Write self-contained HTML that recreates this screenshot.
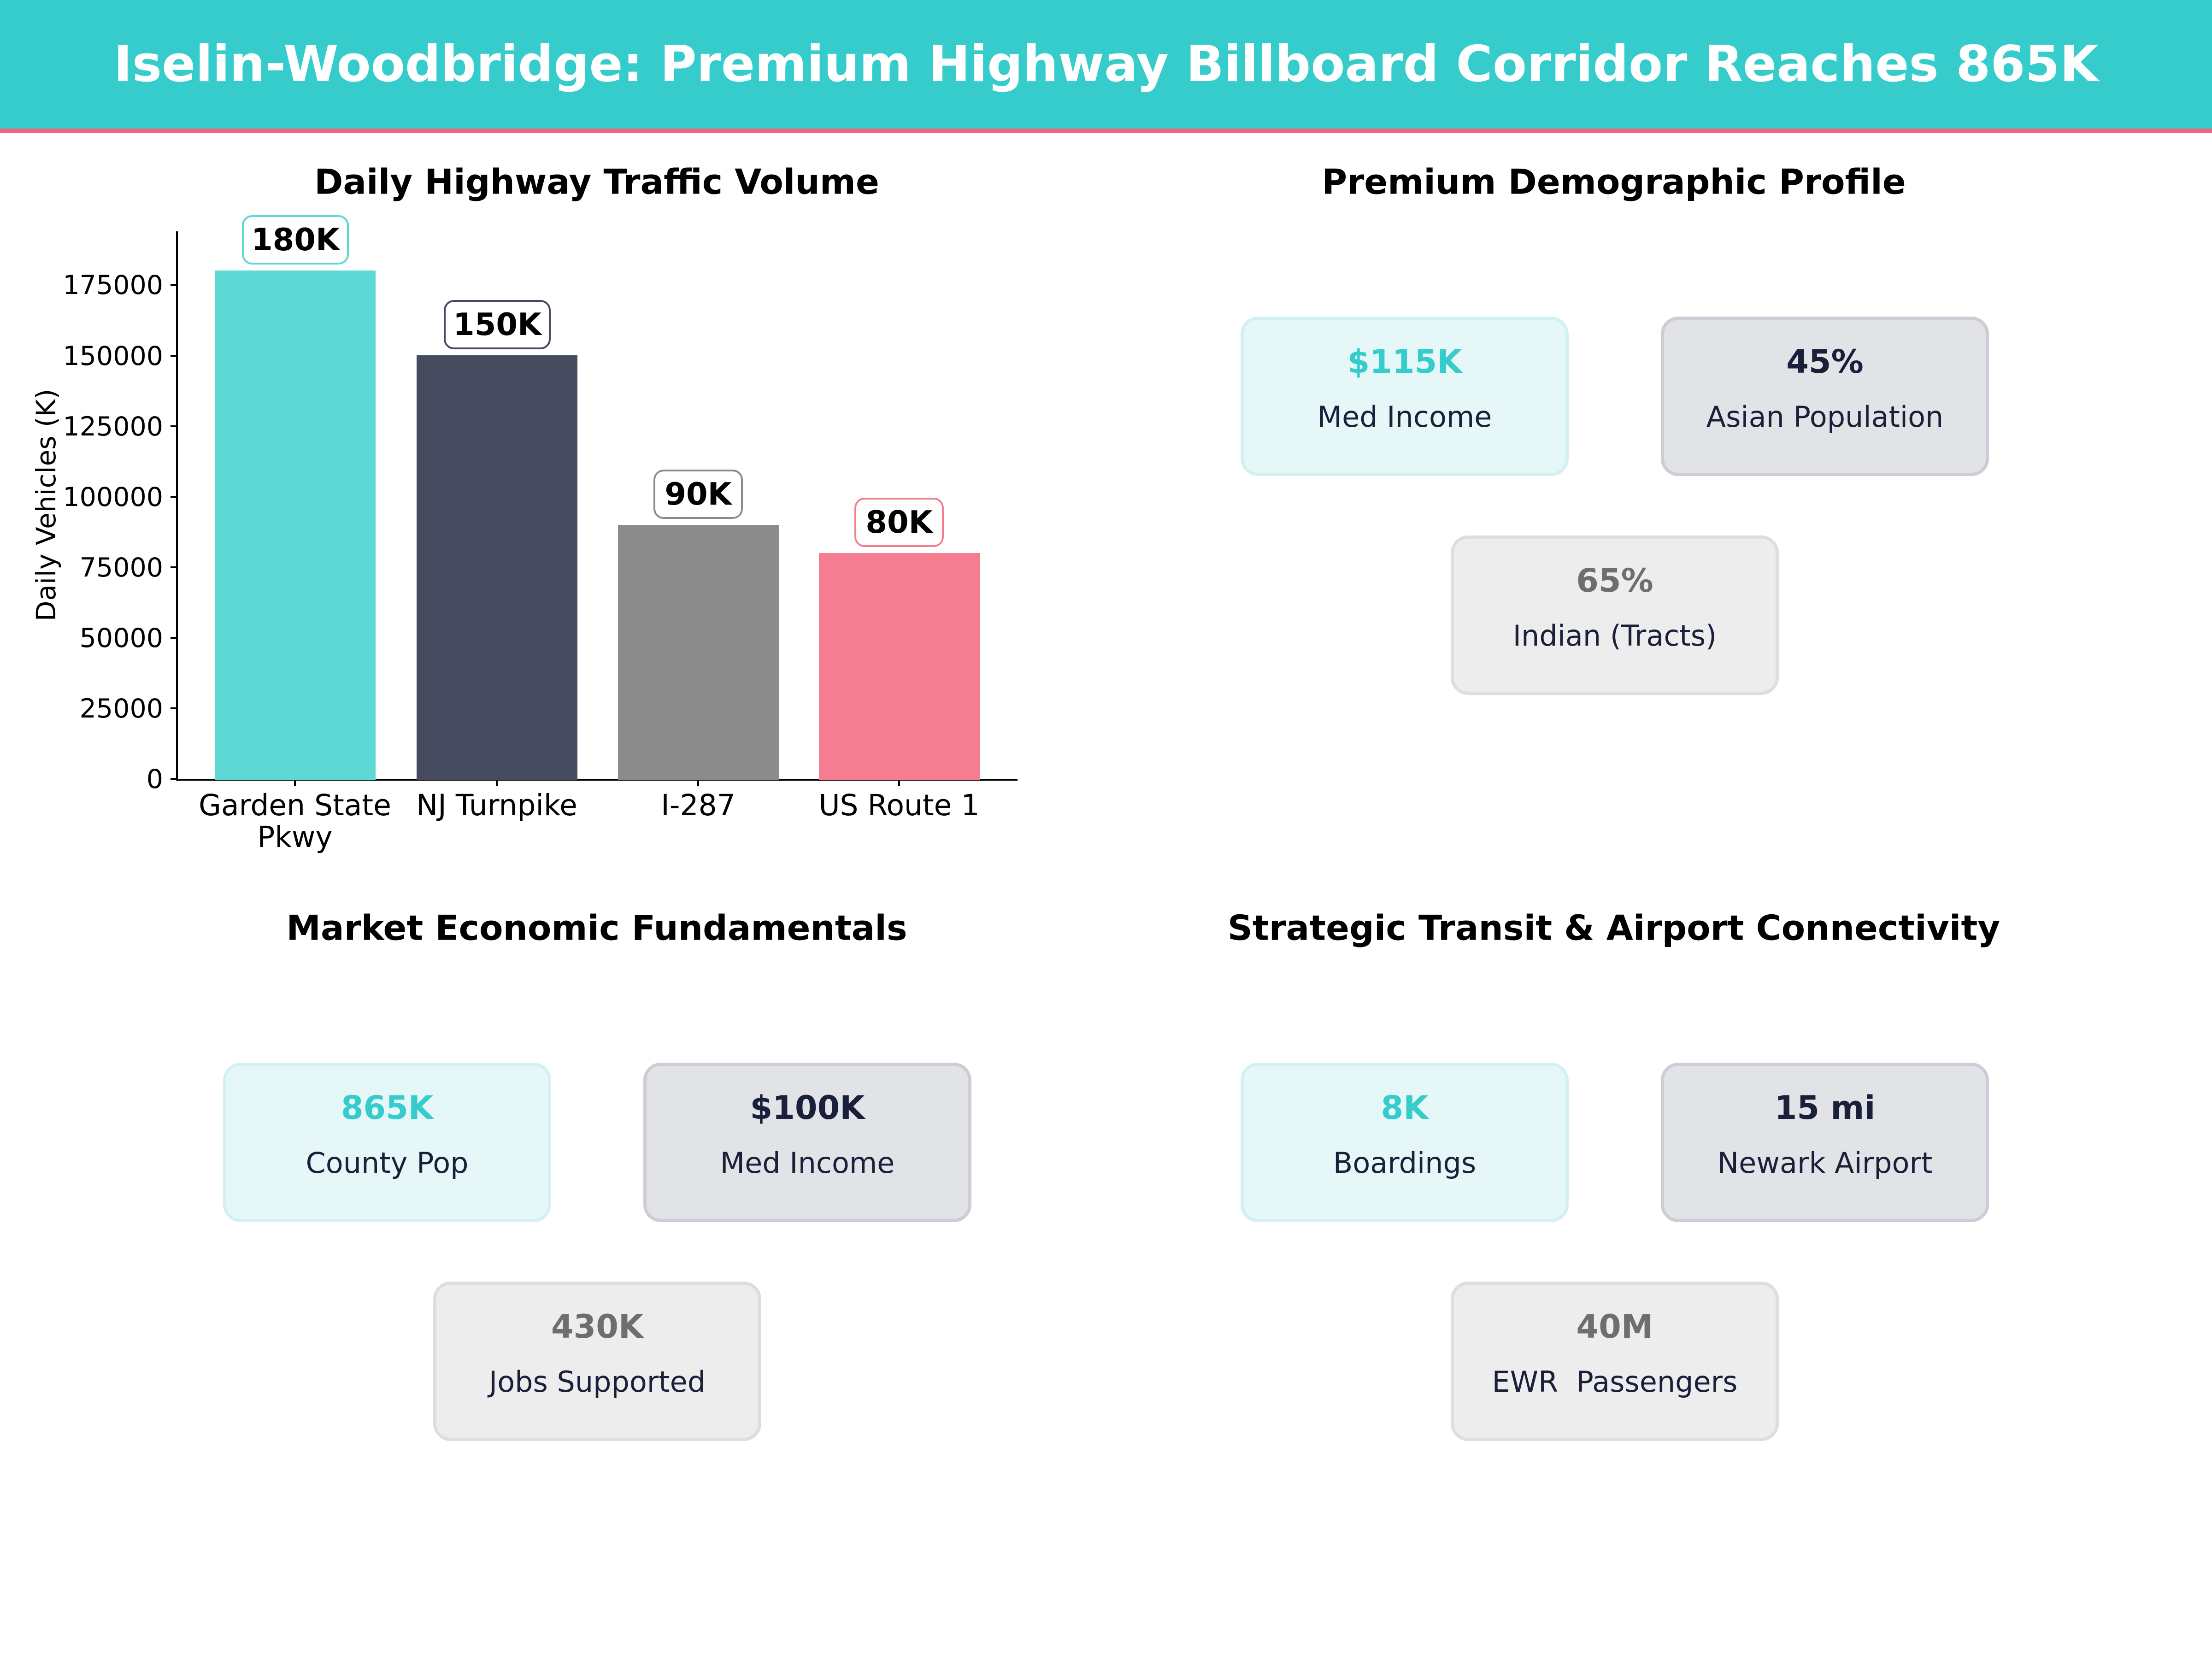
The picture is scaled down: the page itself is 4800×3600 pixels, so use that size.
<!DOCTYPE html>
<html><head><meta charset="utf-8">
<style>
*{margin:0;padding:0;box-sizing:border-box}
body{width:4800px;height:3600px;background:#fff;position:relative;overflow:hidden;font-family:"DejaVu Sans","Liberation Sans",sans-serif}
.t{position:absolute;white-space:nowrap;transform:translate(-50%,-50%);line-height:1}
.card{position:absolute;width:712px;height:346px;border-radius:38px;border:7px solid}
.c1{background:#e5f7f7;border-color:#d3f1f2}
.c2{background:#e2e3e7;border-color:#cdcdd5}
.c3{background:#ededed;border-color:#dedede}
.v{font-weight:bold;font-size:70px}
.l{font-size:62px;color:#1a1f3a}
.ttl{font-weight:bold;font-size:75px;color:#000}
</style></head><body>
<div style="position:absolute;left:0;top:0;width:4800px;height:279px;background:#36cccc"></div>
<div style="position:absolute;left:0;top:279px;width:4800px;height:9px;background:#f0637b"></div>
<div class="t" style="left:2400px;top:140px;color:#fff;font-weight:bold;font-size:108px">Iselin-Woodbridge: Premium Highway Billboard Corridor Reaches 865K</div>

<div class="t ttl" style="left:1295px;top:395px">Daily Highway Traffic Volume</div>
<svg style="position:absolute;left:0;top:0" width="2400" height="1900">
<g font-family="DejaVu Sans" font-size="57" text-anchor="end" fill="#000">
<line x1="384" y1="502" x2="384" y2="1692" stroke="#000" stroke-width="4"/>
<line x1="382" y1="1692" x2="2208" y2="1692" stroke="#000" stroke-width="4"/>
<rect x="466" y="587" width="349" height="1105" fill="#5dd8d4"/>
<rect x="904" y="771" width="349" height="921" fill="#464a5f"/>
<rect x="1341" y="1139" width="349" height="553" fill="#8b8b8b"/>
<rect x="1777" y="1200" width="349" height="492" fill="#f57d91"/>
<g stroke="#000" stroke-width="4">
<line x1="370" y1="1690" x2="384" y2="1690"/><line x1="370" y1="1537" x2="384" y2="1537"/>
<line x1="370" y1="1384" x2="384" y2="1384"/><line x1="370" y1="1231" x2="384" y2="1231"/>
<line x1="370" y1="1078" x2="384" y2="1078"/><line x1="370" y1="925" x2="384" y2="925"/>
<line x1="370" y1="772" x2="384" y2="772"/><line x1="370" y1="618" x2="384" y2="618"/>
<line x1="640" y1="1692" x2="640" y2="1706"/><line x1="1078" y1="1692" x2="1078" y2="1706"/>
<line x1="1515" y1="1692" x2="1515" y2="1706"/><line x1="1951" y1="1692" x2="1951" y2="1706"/>
</g>
<text x="354" y="1710">0</text><text x="354" y="1557">25000</text><text x="354" y="1404">50000</text>
<text x="354" y="1251">75000</text><text x="354" y="1098">100000</text><text x="354" y="945">125000</text>
<text x="354" y="792">150000</text><text x="354" y="638">175000</text>
<text transform="translate(120,1096) rotate(-90)" text-anchor="middle" font-size="58">Daily Vehicles (K)</text>
<g text-anchor="middle" font-size="63">
<text x="640" y="1769">Garden State</text><text x="640" y="1838">Pkwy</text>
<text x="1078" y="1769">NJ Turnpike</text><text x="1515" y="1769">I-287</text><text x="1951" y="1769">US Route 1</text>
</g>
<g fill="#fff" stroke-width="4">
<rect x="527" y="469" width="228" height="103" rx="20" stroke="#5dd8d4"/>
<rect x="965" y="653" width="228" height="103" rx="20" stroke="#464a5f"/>
<rect x="1420" y="1021" width="190" height="103" rx="20" stroke="#8b8b8b"/>
<rect x="1856" y="1082" width="190" height="103" rx="20" stroke="#f57d91"/>
</g>
<g text-anchor="middle" font-weight="bold" font-size="67">
<text x="641" y="543">180K</text><text x="1079" y="727">150K</text>
<text x="1515" y="1095">90K</text><text x="1951" y="1156">80K</text>
</g>
</g>
</svg>

<div class="t ttl" style="left:3502px;top:395px">Premium Demographic Profile</div>
<div class="card c1" style="left:2692px;top:687px"></div>
<div class="card c2" style="left:3604px;top:687px"></div>
<div class="card c3" style="left:3148px;top:1162px"></div>
<div class="t v" style="left:3048px;top:785px;color:#36cccc">$115K</div>
<div class="t l" style="left:3048px;top:905px">Med Income</div>
<div class="t v" style="left:3960px;top:785px;color:#1a1f3a">45%</div>
<div class="t l" style="left:3960px;top:905px">Asian Population</div>
<div class="t v" style="left:3504px;top:1260px;color:#6e6e6e">65%</div>
<div class="t l" style="left:3504px;top:1380px">Indian (Tracts)</div>

<div class="t ttl" style="left:1295px;top:2014px">Market Economic Fundamentals</div>
<div class="card c1" style="left:484px;top:2306px"></div>
<div class="card c2" style="left:1396px;top:2306px"></div>
<div class="card c3" style="left:940px;top:2781px"></div>
<div class="t v" style="left:840px;top:2404px;color:#36cccc">865K</div>
<div class="t l" style="left:840px;top:2524px">County Pop</div>
<div class="t v" style="left:1752px;top:2404px;color:#1a1f3a">$100K</div>
<div class="t l" style="left:1752px;top:2524px">Med Income</div>
<div class="t v" style="left:1296px;top:2879px;color:#6e6e6e">430K</div>
<div class="t l" style="left:1296px;top:2999px">Jobs Supported</div>

<div class="t ttl" style="left:3502px;top:2014px">Strategic Transit &amp; Airport Connectivity</div>
<div class="card c1" style="left:2692px;top:2306px"></div>
<div class="card c2" style="left:3604px;top:2306px"></div>
<div class="card c3" style="left:3148px;top:2781px"></div>
<div class="t v" style="left:3048px;top:2404px;color:#36cccc">8K</div>
<div class="t l" style="left:3048px;top:2524px">Boardings</div>
<div class="t v" style="left:3960px;top:2404px;color:#1a1f3a">15 mi</div>
<div class="t l" style="left:3960px;top:2524px">Newark Airport</div>
<div class="t v" style="left:3504px;top:2879px;color:#6e6e6e">40M</div>
<div class="t l" style="left:3504px;top:2999px">EWR&nbsp; Passengers</div>
</body></html>
